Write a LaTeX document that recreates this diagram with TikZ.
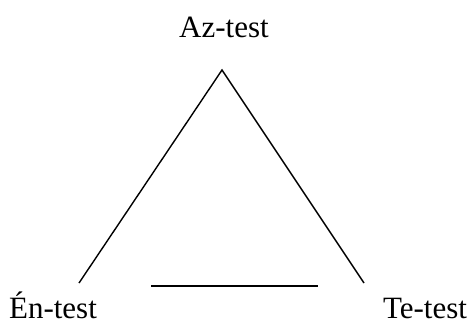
\documentclass[tikz,border=0pt]{standalone}
\usepackage{fontspec}
\setmainfont{Liberation Serif}
\begin{document}
\begin{tikzpicture}[x=1pt, y=1pt, line cap=butt, line join=miter]
    \tikzset{label text/.style={inner sep=0pt, anchor=base, font=\fontsize{31}{36}\selectfont}}
    \useasboundingbox (0,0) rectangle (473,325);
    \coordinate (apex) at (222,255);
    \coordinate (left) at (79,42);
    \coordinate (right) at (364,42);
    \coordinate (base start) at (151,39);
    \coordinate (base end) at (318,39);
    \draw[line width=1.4pt] (left) -- (apex) -- (right);
    \draw[line width=1.4pt] (base start) -- (base end);
    \node[label text] (az) at (224,288) {Az-test};
    \node[label text] (en) at (53,7) {Én-test};
    \node[label text] (te) at (425,7) {Te-test};
  \end{tikzpicture}
\end{document}
